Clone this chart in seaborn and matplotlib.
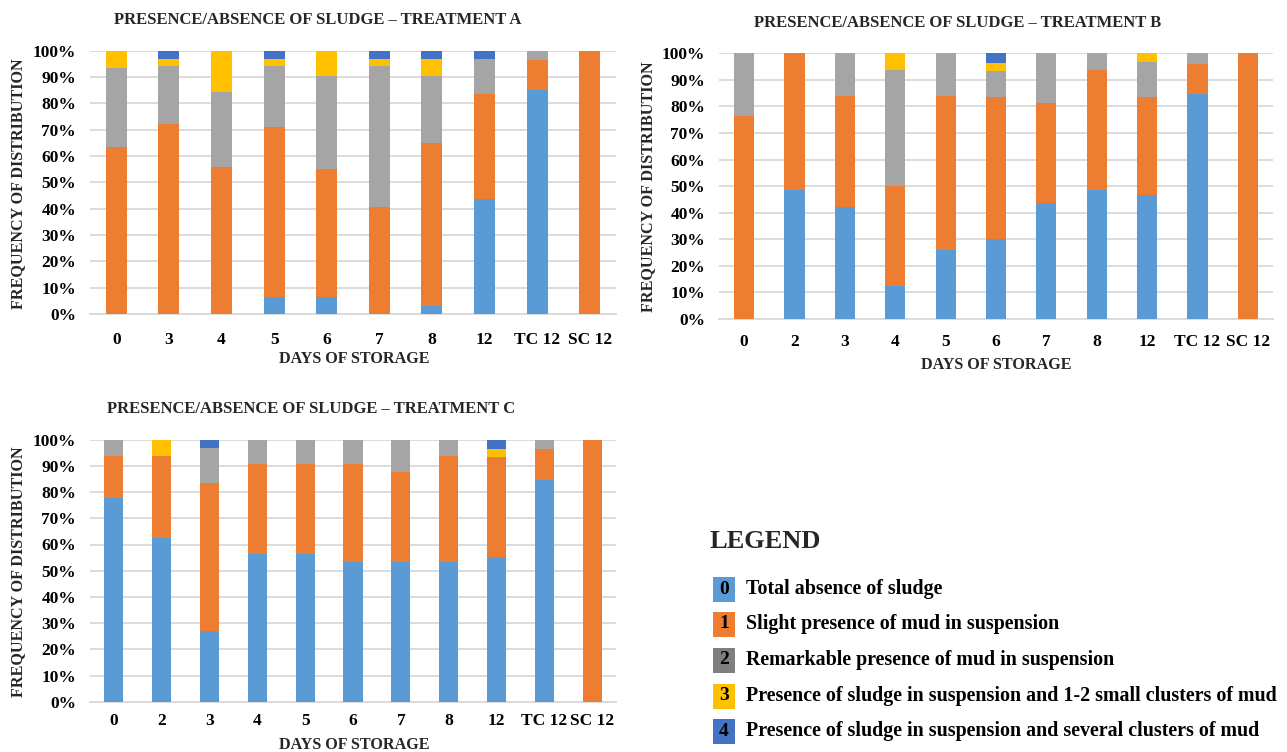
import numpy as np
import pandas as pd
import matplotlib
matplotlib.use("Agg")
import matplotlib.pyplot as plt
from matplotlib.patches import Rectangle
import seaborn as sns

sns.set_theme(style="white")
plt.rcParams['font.family'] = ['Liberation Serif', 'DejaVu Serif']
plt.rcParams['font.weight'] = 'bold'

# ---------------- data (percent) ----------------
cats_a = ['0', '3', '4', '5', '6', '7', '8', '12', 'TC 12', 'SC 12']
a_level0 = [0, 0, 0, 6.5, 6.5, 0, 3.2, 43.5, 85, 0]
a_level1 = [63.5, 72, 56, 64.5, 48.5, 40.5, 61.6, 40, 11.4, 100]
a_level2 = [30, 22, 28.5, 23, 35.5, 53.5, 25.7, 13.5, 3.6, 0]
a_level3 = [6.5, 3, 15.5, 3, 9.5, 3, 6.5, 0, 0, 0]
a_level4 = [0, 3, 0, 3, 0, 3, 3, 3, 0, 0]

cats_b = ['0', '2', '3', '4', '5', '6', '7', '8', '12', 'TC 12', 'SC 12']
b_level0 = [0, 48.5, 42, 12.5, 26, 30, 43.7, 48.5, 46.6, 84.8, 0]
b_level1 = [76.5, 51.5, 42, 37.5, 58, 53.4, 37.5, 45.2, 36.8, 11.2, 100]
b_level2 = [23.5, 0, 16, 43.7, 16, 10, 18.8, 6.3, 13.3, 4, 0]
b_level3 = [0, 0, 0, 6.3, 0, 3.1, 0, 0, 3.3, 0, 0]
b_level4 = [0, 0, 0, 0, 0, 3.5, 0, 0, 0, 0, 0]

cats_c = ['0', '2', '3', '4', '5', '6', '7', '8', '12', 'TC 12', 'SC 12']
c_level0 = [77.6, 62.6, 26.8, 56.3, 56.3, 53.3, 53.3, 53.3, 55.1, 84.8, 0]
c_level1 = [16.1, 31.2, 56.5, 34.5, 34.5, 37.5, 34.5, 40.5, 38.3, 11.5, 100]
c_level2 = [6.3, 0, 13.5, 9.2, 9.2, 9.2, 12.2, 6.2, 0, 3.7, 0]
c_level3 = [0, 6.2, 0, 0, 0, 0, 0, 0, 3.2, 0, 0]
c_level4 = [0, 0, 3.2, 0, 0, 0, 0, 0, 3.4, 0, 0]

titles = ['PRESENCE/ABSENCE OF SLUDGE \u2013 TREATMENT A',
          'PRESENCE/ABSENCE OF SLUDGE \u2013 TREATMENT B',
          'PRESENCE/ABSENCE OF SLUDGE \u2013 TREATMENT C']
x_title = 'DAYS OF STORAGE'
y_title = 'FREQUENCY OF DISTRIBUTION'
yticks = [0, 10, 20, 30, 40, 50, 60, 70, 80, 90, 100]
ytick_labels = [f'{v}%' for v in yticks]

legend_codes = ['0', '1', '2', '3', '4']
legend_labels = ['Total absence of sludge',
                 'Slight presence of mud in suspension',
                 'Remarkable presence of mud in suspension',
                 'Presence of sludge in suspension and 1-2 small clusters of mud',
                 'Presence of sludge in suspension and several clusters of mud']

bar_colors = ['#5B9BD5', '#ED7D31', '#A5A5A5', '#FFC000', '#4472C4']
legend_colors = ['#5B9BD5', '#ED7D31', '#7F7F7F', '#FFC000', '#4472C4']
grid_color = '#D9D9D9'

W, H = 1287, 752
fig = plt.figure(figsize=(W / 100, H / 100), dpi=100)


def fx(px):
    return px / W


def fy(py):
    return 1 - py / H


def panel(rect, cats, levels, title, title_xy, xlab_xy, ylab_xy, xpad):
    left, top, right, bottom = rect
    ax = fig.add_axes([fx(left), fy(bottom), fx(right - left), (bottom - top) / H])
    df = pd.DataFrame({'day': cats})
    cum = np.zeros(len(cats))
    cums = []
    for lv in levels:
        cum = cum + np.array(lv, dtype=float)
        cums.append(cum.copy())
    # draw cumulative layers from top to bottom so each lower layer covers the upper
    for i in range(len(levels) - 1, -1, -1):
        df['v'] = cums[i]
        sns.barplot(data=df, x='day', y='v', order=cats, color=bar_colors[i],
                    saturation=1, width=0.4, errorbar=None, ax=ax,
                    edgecolor='none', linewidth=0, zorder=3)
    ax.set_xlim(-0.5, len(cats) - 0.5)
    ax.set_ylim(0, 100)
    ax.set_yticks(yticks)
    ax.set_yticklabels(ytick_labels)
    ax.yaxis.grid(True, color=grid_color, linewidth=1.3, zorder=0)
    ax.set_axisbelow(True)
    for s in ['top', 'right', 'left']:
        ax.spines[s].set_visible(False)
    ax.spines['bottom'].set_color(grid_color)
    ax.spines['bottom'].set_linewidth(1.3)
    ax.tick_params(axis='both', length=0, labelsize=12.5, colors='black')
    ax.tick_params(axis='y', pad=10)
    ax.tick_params(axis='x', pad=xpad)
    for t in ax.get_xticklabels() + ax.get_yticklabels():
        t.set_fontweight('bold')
    ax.set_xlabel('')
    ax.set_ylabel('')
    fig.text(fx(title_xy[0]), fy(title_xy[1]), title, ha='center', va='center',
             fontsize=12, fontweight='bold')
    fig.text(fx(xlab_xy[0]), fy(xlab_xy[1]), x_title, ha='center', va='center',
             fontsize=11.6, fontweight='bold')
    fig.text(fx(ylab_xy[0]), fy(ylab_xy[1]), y_title, ha='center', va='center',
             rotation=90, fontsize=11.6, fontweight='bold')
    return ax


panel((90, 50.7, 616, 314), cats_a,
      [a_level0, a_level1, a_level2, a_level3, a_level4],
      titles[0], (318, 20), (354, 359), (18, 184), 13)
panel((719, 53.3, 1273, 319), cats_b,
      [b_level0, b_level1, b_level2, b_level3, b_level4],
      titles[1], (958, 23), (996, 365), (648, 187), 11)
panel((90, 439.7, 616, 701.7), cats_c,
      [c_level0, c_level1, c_level2, c_level3, c_level4],
      titles[2], (311, 409), (354, 745), (18, 572), 8)

# ---------------- legend ----------------
fig.text(fx(710), fy(541), 'LEGEND', ha='left', va='center', fontsize=19, fontweight='bold')
row_y = [589, 624, 660, 696, 731]
for code, lab, col, y in zip(legend_codes, legend_labels, legend_colors, row_y):
    fig.patches.append(Rectangle((fx(713), fy(y + 12.5)), fx(22), 25 / H,
                                 transform=fig.transFigure, facecolor=col,
                                 edgecolor='none'))
    fig.text(fx(724), fy(y), code, ha='center', va='center', fontsize=14,
             fontweight='bold', color='black')
    fig.text(fx(746), fy(y), lab, ha='left', va='center', fontsize=14.4,
             fontweight='bold', color='black')

fig.savefig('out.png', dpi=100, facecolor='white')
